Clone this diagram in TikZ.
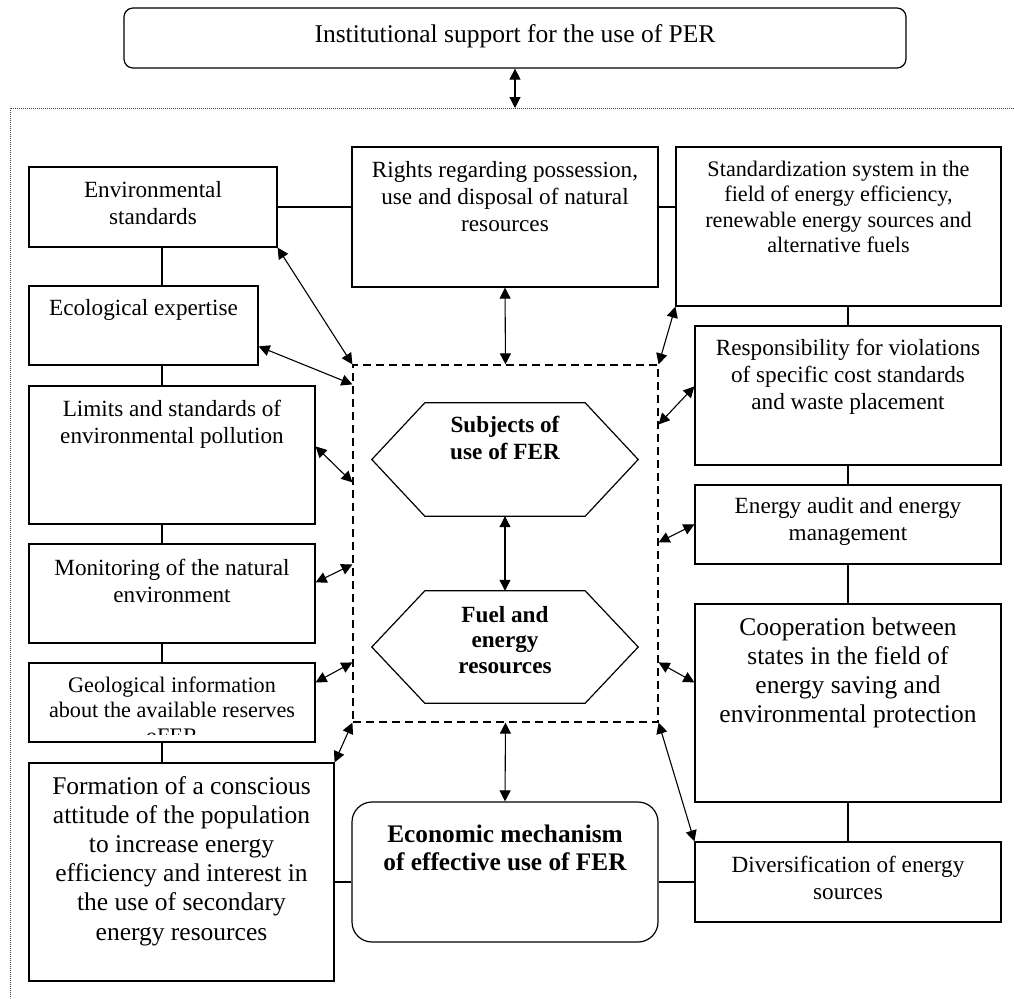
\documentclass[tikz,border=0pt]{standalone}
\usepackage{fontspec}
\setmainfont{Liberation Serif}
\usetikzlibrary{arrows.meta,calc,fit}
\begin{document}
\begin{tikzpicture}[x=1pt,y=-1pt,
  bx/.style={draw,line width=1.2pt,inner sep=0pt},
  ghost/.style={inner sep=0pt},
  txt/.style={anchor=base,align=center,inner sep=0pt},
  fA/.style={font=\fontsize{23.2}{27}\selectfont},
  fS/.style={font=\fontsize{22.2}{25.5}\selectfont},
  fL/.style={font=\fontsize{25.5}{29.2}\selectfont},
  fB/.style={font=\fontsize{23.2}{27}\selectfont\bfseries},
  fBL/.style={font=\fontsize{25.3}{28.5}\selectfont\bfseries},
  con/.style={line width=1.2pt},
  biarrow/.style={line width=1.1pt,{Triangle[length=11pt,width=11pt]}-{Triangle[length=11pt,width=11pt]}},
  frame/.style={line width=0.8pt,black!75,dash pattern=on 0.9pt off 1.1pt},
  dashbox/.style={draw,line width=1.2pt,inner sep=0pt,dash pattern=on 8pt off 5pt},
]
\useasboundingbox (0,0) rectangle (1014,998);

% outer dotted frame
\coordinate (fTL) at (10,108);
\coordinate (fTR) at (1014,108);
\coordinate (fBL) at (10,998);
\draw[frame] (fTR) -- (fTL) -- (fBL);

% boxes (text nodes anchored at the baseline of their last line)
\node[bx,rounded corners=9pt,fit={(124,8)(906,68)}] (inst) {};
\node[txt,fL] (instT) at (515,43) {Institutional support for the use of PER};

\node[bx,fit={(29,167)(277,247)}] (env) {};
\node[txt,fA] (envT) at (153,224) {Environmental\\standards};

\node[bx,fit={(352,147)(658,287)}] (rights) {};
\node[txt,fA] (rightsT) at (505,231) {Rights regarding possession,\\use and disposal of natural\\resources};

\node[bx,fit={(676,147)(1001,306)}] (stdz) {};
\node[txt,fS] (stdzT) at (838.5,252.5) {Standardization system in the\\field of energy efficiency,\\renewable energy sources and\\alternative fuels};

\node[bx,fit={(29,286)(258,365)}] (eco) {};
\node[txt,fA] (ecoT) at (143.5,315) {Ecological expertise};

\node[bx,fit={(29,386)(315,524)}] (lim) {};
\node[txt,fA] (limT) at (172,443) {Limits and standards of\\environmental pollution};

\node[bx,fit={(29,544)(315,643)}] (mon) {};
\node[txt,fA] (monT) at (172,602) {Monitoring of the natural\\environment};

\node[bx,fit={(29,663)(315,742)}] (geo) {};
\begin{scope}
\clip (29,663) rectangle (315,734);
\node[txt,fS] (geoT) at (172,743) {Geological information\\about the available reserves\\oFER};
\end{scope}

\node[bx,fit={(29,763)(334,981)}] (form) {};
\node[txt,fL] (formT) at (181.5,940) {Formation of a conscious\\attitude of the population\\to increase energy\\efficiency and interest in\\the use of secondary\\energy resources};

\node[bx,rounded corners=20pt,fit={(352,802)(658,942)}] (econ) {};
\node[txt,fBL] (econT) at (505,870.5) {Economic mechanism\\of effective use of FER};

\node[bx,fit={(695,326)(1001,465)}] (resp) {};
\node[txt,fA] (respT) at (848,409) {Responsibility for violations\\of specific cost standards\\and waste placement};

\node[bx,fit={(695,485)(1001,564)}] (audit) {};
\node[txt,fA] (auditT) at (848,540) {Energy audit and energy\\management};

\node[bx,fit={(695,604)(1001,802)}] (coop) {};
\node[txt,fL] (coopT) at (848,722.6) {Cooperation between\\states in the field of\\energy saving and\\environmental protection};

\node[bx,fit={(695,842)(1001,922)}] (div) {};
\node[txt,fA] (divT) at (848,899) {Diversification of energy\\sources};

% dashed central frame
\node[dashbox,fit={(353,365)(658,722)}] (dash) {};

% hexagons
\node[ghost,fit={(372,403)(638,516)}] (hex1) {};
\draw[con] (hex1.west) -- ($(hex1.north west)+(53,0)$) -- ($(hex1.north east)+(-53,0)$) -- (hex1.east) -- ($(hex1.south east)+(-53,0)$) -- ($(hex1.south west)+(53,0)$) -- cycle;
\node[txt,fB] (hex1T) at (505,459) {Subjects of\\use of FER};

\node[ghost,fit={(372,591)(638,703)}] (hex2) {};
\draw[con] (hex2.west) -- ($(hex2.north west)+(53,0)$) -- ($(hex2.north east)+(-53,0)$) -- (hex2.east) -- ($(hex2.south east)+(-53,0)$) -- ($(hex2.south west)+(53,0)$) -- cycle;
\node[txt,font=\fontsize{23.2}{25.5}\selectfont\bfseries] (hex2T) at (505,673) {Fuel and\\energy\\resources};

% plain connectors
\coordinate (lc) at (162,0);
\coordinate (rc) at (848,0);
\coordinate (hc) at (0,882);
\draw[con] (env.east) -- (env.east -| rights.west);
\draw[con] (env.east -| rights.east) -- (env.east -| stdz.west);
\draw[con] (lc |- env.south) -- (lc |- eco.north);
\draw[con] (lc |- eco.south) -- (lc |- lim.north);
\draw[con] (lc |- lim.south) -- (lc |- mon.north);
\draw[con] (lc |- mon.south) -- (lc |- geo.north);
\draw[con] (lc |- geo.south) -- (lc |- form.north);
\draw[con] (rc |- stdz.south) -- (rc |- resp.north);
\draw[con] (rc |- resp.south) -- (rc |- audit.north);
\draw[con] (rc |- audit.south) -- (rc |- coop.north);
\draw[con] (rc |- coop.south) -- (rc |- div.north);
\draw[con] (form.east |- hc) -- (econ.west |- hc);
\draw[con] (econ.east |- hc) -- (div.west |- hc);

% double arrows
\draw[biarrow] (inst.south) -- (inst.south |- fTL);
\draw[biarrow] (rights.south) -- (dash.north);
\draw[biarrow] (env.south east) -- (dash.north west);
\draw[biarrow] ($(eco.north east)+(0,61)$) -- ($(dash.north west)+(0,20)$);
\draw[biarrow] ($(lim.north east)+(0,61)$) -- ($(dash.north west)+(0,118)$);
\draw[biarrow] ($(mon.north east)+(0,39)$) -- ($(dash.north west)+(0,200)$);
\draw[biarrow] ($(geo.north east)+(0,20)$) -- ($(dash.north west)+(0,298)$);
\draw[biarrow] (form.north east) -- (dash.south west);
\draw[biarrow] (stdz.south west) -- (dash.north east);
\draw[biarrow] ($(resp.north west)+(0,61)$) -- ($(dash.north east)+(0,60)$);
\draw[biarrow] ($(audit.north west)+(0,40)$) -- ($(dash.north east)+(0,178)$);
\draw[biarrow] ($(coop.north west)+(0,79)$) -- ($(dash.north east)+(0,298)$);
\draw[biarrow] (div.north west) -- (dash.south east);
\draw[biarrow] (hex1.south) -- (hex2.north);
\draw[biarrow] (dash.south) -- (econ.north);
\end{tikzpicture}
\end{document}
